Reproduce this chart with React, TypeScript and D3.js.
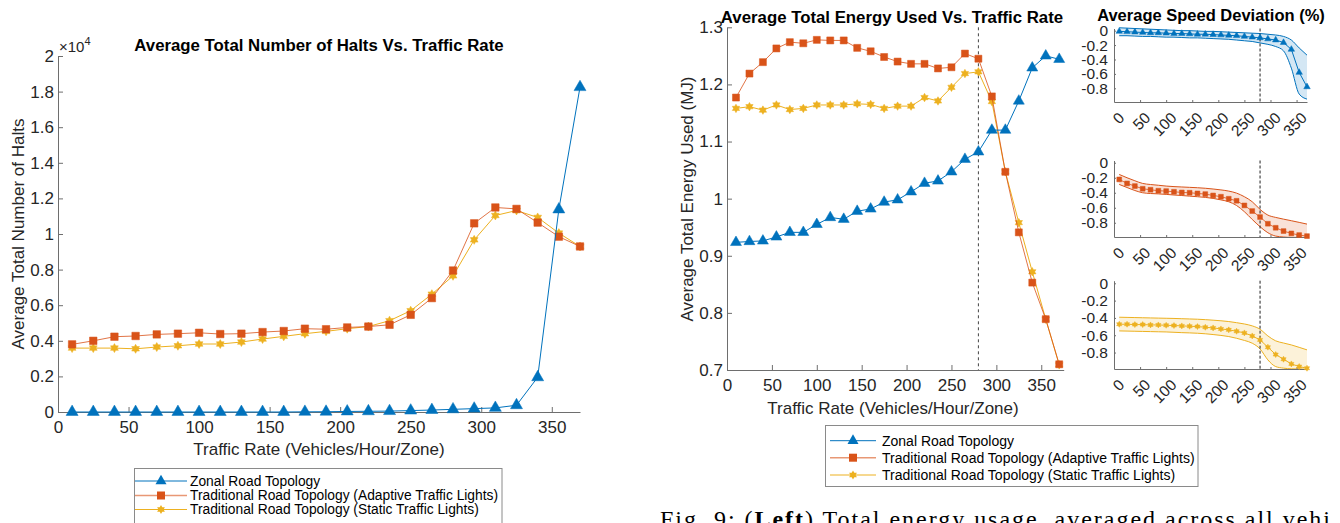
import * as d3 from "d3";
import React from "react";

const width = 1340;
const height = 523;
const font = "'Liberation Sans', Arial, Helvetica, sans-serif";

// traffic rates (vehicles/hour/zone)
const rates = [10, 25, 40, 55, 70, 85, 100, 115, 130, 145, 160, 175, 190, 205, 220, 235, 250, 265, 280, 295, 310, 325, 340, 355, 370];

const seriesNames = [
  "Zonal Road Topology",
  "Traditional Road Topology (Adaptive Traffic Lights)",
  "Traditional Road Topology (Static Traffic Lights)",
];

// total halts
const zonalHalts = [0, 0, 0, 0, 0, 0, 0, 0, 0, 0, 0, 10, 15, 30, 40, 50, 80, 110, 150, 190, 230, 380, 1950, 11380, 18250];
const adaptiveHalts = [3800, 4000, 4230, 4270, 4360, 4400, 4450, 4380, 4400, 4490, 4550, 4680, 4650, 4750, 4800, 4900, 5460, 6400, 7950, 10600, 11490, 11410, 10640, 9850, 9300];
const staticHalts = [3590, 3590, 3590, 3550, 3650, 3720, 3820, 3820, 3930, 4100, 4250, 4400, 4530, 4680, 4800, 5130, 5690, 6620, 7650, 9670, 11040, 11320, 10930, 10050, 9300];

// total energy (MJ)
const zonalEnergy = [0.9235, 0.925, 0.926, 0.933, 0.941, 0.941, 0.955, 0.967, 0.964, 0.978, 0.982, 0.994, 0.998, 1.012, 1.027, 1.031, 1.047, 1.069, 1.082, 1.12, 1.12, 1.171, 1.229, 1.25, 1.244];
const adaptiveEnergy = [1.177, 1.219, 1.239, 1.263, 1.274, 1.272, 1.278, 1.277, 1.277, 1.264, 1.258, 1.248, 1.24, 1.236, 1.236, 1.228, 1.23, 1.254, 1.245, 1.179, 1.047, 0.941, 0.853, 0.789, 0.71];
const staticEnergy = [1.158, 1.161, 1.155, 1.164, 1.156, 1.158, 1.164, 1.164, 1.164, 1.166, 1.165, 1.158, 1.162, 1.162, 1.177, 1.171, 1.195, 1.219, 1.222, 1.17, 1.047, 0.958, 0.872, 0.789, 0.709];

// speed deviation: mean and band
const zonalSpeed = [-0.01, -0.015, -0.02, -0.025, -0.03, -0.03, -0.035, -0.04, -0.04, -0.045, -0.05, -0.05, -0.055, -0.06, -0.065, -0.07, -0.08, -0.09, -0.1, -0.115, -0.13, -0.165, -0.26, -0.58, -0.78];
const zonalUpper = [0.04, 0.035, 0.03, 0.025, 0.02, 0.015, 0.01, 0.005, 0.0, 0.0, -0.005, -0.01, -0.01, -0.015, -0.02, -0.025, -0.03, -0.035, -0.04, -0.05, -0.06, -0.08, -0.13, -0.24, -0.34];
const zonalLower = [-0.07, -0.07, -0.075, -0.08, -0.08, -0.085, -0.09, -0.09, -0.095, -0.1, -0.1, -0.105, -0.11, -0.115, -0.12, -0.13, -0.14, -0.15, -0.17, -0.19, -0.22, -0.28, -0.52, -0.88, -0.95];
const adaptiveSpeed = [-0.222, -0.276, -0.311, -0.347, -0.36, -0.373, -0.378, -0.387, -0.396, -0.4, -0.409, -0.418, -0.436, -0.453, -0.48, -0.507, -0.569, -0.644, -0.724, -0.813, -0.867, -0.911, -0.942, -0.964, -0.978];
const adaptiveUpper = [-0.156, -0.2, -0.24, -0.276, -0.29, -0.3, -0.311, -0.318, -0.323, -0.328, -0.333, -0.34, -0.35, -0.362, -0.378, -0.405, -0.453, -0.52, -0.622, -0.698, -0.729, -0.752, -0.773, -0.795, -0.818];
const adaptiveLower = [-0.289, -0.33, -0.37, -0.4, -0.41, -0.415, -0.422, -0.43, -0.437, -0.445, -0.453, -0.462, -0.475, -0.495, -0.52, -0.57, -0.653, -0.756, -0.853, -0.933, -0.978, -0.99, -0.996, -0.996, -0.996];
const staticSpeed = [-0.473, -0.473, -0.477, -0.477, -0.481, -0.481, -0.485, -0.488, -0.492, -0.496, -0.5, -0.508, -0.515, -0.527, -0.538, -0.554, -0.573, -0.608, -0.654, -0.738, -0.823, -0.877, -0.931, -0.962, -0.981];
const staticUpper = [-0.392, -0.394, -0.396, -0.398, -0.4, -0.402, -0.404, -0.406, -0.409, -0.412, -0.415, -0.42, -0.426, -0.433, -0.442, -0.455, -0.47, -0.492, -0.531, -0.608, -0.665, -0.69, -0.712, -0.74, -0.769];
const staticLower = [-0.55, -0.552, -0.554, -0.556, -0.558, -0.56, -0.562, -0.566, -0.57, -0.573, -0.577, -0.583, -0.592, -0.602, -0.615, -0.635, -0.66, -0.692, -0.758, -0.885, -0.962, -0.98, -0.988, -0.99, -0.992];

const rateTicks = [0, 50, 100, 150, 200, 250, 300, 350];
const haltTicks = [0, 2000, 4000, 6000, 8000, 10000, 12000, 14000, 16000, 18000, 20000];
const energyTicks = [0.7, 0.8, 0.9, 1.0, 1.1, 1.2, 1.3];
const speedTicks = [0, -0.2, -0.4, -0.6, -0.8];
const thresholdRate = 280;

const colors = ["#0072BD", "#D95319", "#EDB120"];
const markers = ["tri", "sq", "star"];
const axisColor = "#6e6e6e";
const textColor = "#262626";

const markerPath = (kind: string, w: number) => {
  if (kind === "tri") return d3.symbol(d3.symbolTriangle, (Math.sqrt(3) / 4) * w * w)() as string;
  if (kind === "sq") return d3.symbol(d3.symbolSquare, w * w)() as string;
  const r = w / 2;
  const pts: [number, number][] = [];
  for (let i = 0; i < 12; i++) {
    const a = -Math.PI / 2 + (i * Math.PI) / 6;
    const rr = i % 2 === 0 ? r : r / Math.sqrt(3);
    pts.push([rr * Math.cos(a), rr * Math.sin(a)]);
  }
  return "M" + pts.map((p) => p.join(",")).join("L") + "Z";
};

const styleAxis = (g: any, fs: number) => {
  g.attr("font-family", font).attr("font-size", fs);
  g.select(".domain").attr("stroke", axisColor);
  g.selectAll(".tick line").attr("stroke", axisColor);
  g.selectAll("text").attr("fill", textColor);
};

const drawSeries = (
  g: any,
  xs: number[],
  ys: number[],
  x: any,
  y: any,
  idx: number,
  size: number,
) => {
  const pts = xs.map((d, i) => [x(d), y(ys[i])] as [number, number]);
  g.append("path")
    .attr("d", d3.line()(pts))
    .attr("fill", "none")
    .attr("stroke", colors[idx])
    .attr("stroke-width", 1)
    .attr("stroke-opacity", idx === 1 ? 0.8 : 1);
  g.append("g")
    .selectAll("path")
    .data(pts)
    .join("path")
    .attr("d", markerPath(markers[idx], size))
    .attr("transform", (p: [number, number]) => `translate(${p[0]},${p[1]})`)
    .attr("fill", colors[idx])
    .attr("stroke", colors[idx])
    .attr("stroke-width", 0.5);
};

const drawLegend = (
  svg: any,
  left: number,
  top: number,
  w: number,
  h: number,
  rows: number[],
  lineX: [number, number],
  textX: number,
  fs: number,
) => {
  const g = svg.append("g");
  g.append("rect")
    .attr("x", left)
    .attr("y", top)
    .attr("width", w)
    .attr("height", h)
    .attr("fill", "#fff")
    .attr("stroke", "#8a8a8a")
    .attr("stroke-width", 1);
  seriesNames.forEach((name, i) => {
    const cy = rows[i];
    g.append("line")
      .attr("x1", lineX[0])
      .attr("x2", lineX[1])
      .attr("y1", cy)
      .attr("y2", cy)
      .attr("stroke", colors[i])
      .attr("stroke-opacity", i === 1 ? 0.6 : 1)
      .attr("stroke-width", i === 1 ? 1.6 : 1);
    g.append("path")
      .attr("d", markerPath(markers[i], i === 0 ? 11 : i === 1 ? 8 : 9))
      .attr("transform", `translate(${(lineX[0] + lineX[1]) / 2},${cy})`)
      .attr("fill", colors[i]);
    g.append("text")
      .attr("x", textX)
      .attr("y", cy)
      .attr("dominant-baseline", "central")
      .attr("font-family", font)
      .attr("font-size", fs)
      .attr("fill", "#000")
      .text(name);
  });
};

const draw = (el: SVGSVGElement) => {
  const svg = d3.select(el);
  svg.selectAll("*").remove();
  svg.append("rect").attr("width", width).attr("height", height).attr("fill", "#fff");

  // ---------- left: halts ----------
  const xL = d3.scaleLinear().domain([0, 370]).range([58, 580]);
  const yL = d3.scaleLinear().domain([0, 20000]).range([412, 56]);

  const gxL = svg
    .append("g")
    .attr("transform", "translate(0,412)")
    .call(d3.axisBottom(xL).tickValues(rateTicks).tickSizeInner(-5).tickSizeOuter(0).tickPadding(9) as any);
  styleAxis(gxL, 17);
  const gyL = svg
    .append("g")
    .attr("transform", "translate(58,0)")
    .call(
      d3
        .axisLeft(yL)
        .tickValues(haltTicks)
        .tickFormat((d: any) => `${+(d / 1e4).toFixed(1)}`)
        .tickSizeInner(-5)
        .tickSizeOuter(0)
        .tickPadding(4) as any,
    );
  styleAxis(gyL, 17);

  const mult = svg.append("text").attr("x", 59).attr("y", 52).attr("font-family", font).attr("fill", textColor);
  mult.append("tspan").attr("font-size", 15).text("×10");
  mult.append("tspan").attr("font-size", 11).attr("dy", -7).text("4");

  const gL = svg.append("g");
  drawSeries(gL, rates, staticHalts, xL, yL, 2, 9);
  drawSeries(gL, rates, adaptiveHalts, xL, yL, 1, 7.5);
  drawSeries(gL, rates, zonalHalts, xL, yL, 0, 12);

  svg
    .append("text")
    .attr("x", 319)
    .attr("y", 51)
    .attr("text-anchor", "middle")
    .attr("font-family", font)
    .attr("font-weight", "bold")
    .attr("font-size", 16.8)
    .text("Average Total Number of Halts Vs. Traffic Rate");
  svg
    .append("text")
    .attr("transform", "translate(24,234) rotate(-90)")
    .attr("text-anchor", "middle")
    .attr("font-family", font)
    .attr("font-size", 17)
    .attr("fill", textColor)
    .text("Average Total Number of Halts");
  svg
    .append("text")
    .attr("x", 319)
    .attr("y", 455)
    .attr("text-anchor", "middle")
    .attr("font-family", font)
    .attr("font-size", 17)
    .attr("fill", textColor)
    .text("Traffic Rate (Vehicles/Hour/Zone)");

  drawLegend(svg, 134.5, 468.5, 367.5, 70, [481, 495.5, 509.5], [135, 187], 190, 13.8);

  // ---------- middle: energy ----------
  const xM = d3.scaleLinear().domain([0, 375]).range([727, 1063.7]);
  const yM = d3.scaleLinear().domain([0.7, 1.3]).range([370, 27.3]);

  const gxM = svg
    .append("g")
    .attr("transform", "translate(0,370)")
    .call(d3.axisBottom(xM).tickValues(rateTicks).tickSizeInner(-5).tickSizeOuter(0).tickPadding(9) as any);
  styleAxis(gxM, 17);
  const gyM = svg
    .append("g")
    .attr("transform", "translate(727,0)")
    .call(
      d3
        .axisLeft(yM)
        .tickValues(energyTicks)
        .tickFormat((d: any) => `${+d.toFixed(1)}`)
        .tickSizeInner(-5)
        .tickSizeOuter(0)
        .tickPadding(4) as any,
    );
  styleAxis(gyM, 17);

  svg
    .append("line")
    .attr("x1", xM(thresholdRate))
    .attr("x2", xM(thresholdRate))
    .attr("y1", yM(1.3))
    .attr("y2", yM(0.7))
    .attr("stroke", "#444")
    .attr("stroke-dasharray", "3,3");

  const gM = svg.append("g");
  drawSeries(gM, rates, staticEnergy, xM, yM, 2, 8.5);
  drawSeries(gM, rates, adaptiveEnergy, xM, yM, 1, 7);
  drawSeries(gM, rates, zonalEnergy, xM, yM, 0, 11);

  svg
    .append("text")
    .attr("x", 892)
    .attr("y", 23)
    .attr("text-anchor", "middle")
    .attr("font-family", font)
    .attr("font-weight", "bold")
    .attr("font-size", 16.8)
    .text("Average Total Energy Used Vs. Traffic Rate");
  svg
    .append("text")
    .attr("transform", "translate(693,199) rotate(-90)")
    .attr("text-anchor", "middle")
    .attr("font-family", font)
    .attr("font-size", 17)
    .attr("fill", textColor)
    .text("Average Total Energy Used (MJ)");
  svg
    .append("text")
    .attr("x", 893)
    .attr("y", 414)
    .attr("text-anchor", "middle")
    .attr("font-family", font)
    .attr("font-size", 17)
    .attr("fill", textColor)
    .text("Traffic Rate (Vehicles/Hour/Zone)");

  drawLegend(svg, 825.5, 425.5, 372.5, 61, [440.7, 457.7, 475], [830, 876], 882, 14);

  // ---------- right: speed deviation panels ----------
  const xR = d3.scaleLinear().domain([0, 370]).range([1114, 1307]);
  const panels = [
    { mean: zonalSpeed, upper: zonalUpper, lower: zonalLower, range: [102, 28.5], size: 6.5 },
    { mean: adaptiveSpeed, upper: adaptiveUpper, lower: adaptiveLower, range: [237, 160.5], size: 4.8 },
    { mean: staticSpeed, upper: staticUpper, lower: staticLower, range: [369, 280.7], size: 6 },
  ];
  panels.forEach((p, i) => {
    const y = d3.scaleLinear().domain([-0.99, 0.03]).range(p.range);
    const g = svg.append("g");
    const area = d3
      .area<number>()
      .x((_, j) => xR(rates[j]))
      .y0((_, j) => y(p.lower[j]))
      .y1((d) => y(d))
      .curve(d3.curveMonotoneX);
    g.append("path").attr("d", area(p.upper)).attr("fill", colors[i]).attr("fill-opacity", 0.17);
    [p.upper, p.lower].forEach((edge) => {
      g.append("path")
        .attr(
          "d",
          d3
            .line<number>()
            .x((_, j) => xR(rates[j]))
            .y((d) => y(d))
            .curve(d3.curveMonotoneX)(edge),
        )
        .attr("fill", "none")
        .attr("stroke", colors[i])
        .attr("stroke-width", 1);
    });

    const gx = svg
      .append("g")
      .attr("transform", `translate(0,${p.range[0]})`)
      .call(d3.axisBottom(xR).tickValues(rateTicks).tickSizeInner(-2).tickSizeOuter(0) as any);
    styleAxis(gx, 15.5);
    gx.selectAll(".tick text")
      .attr("y", null)
      .attr("dy", null)
      .attr("text-anchor", "end")
      .attr("dominant-baseline", "central")
      .attr("transform", "translate(7,13) rotate(-45)");
    const gy = svg
      .append("g")
      .attr("transform", "translate(1114,0)")
      .call(
        d3
          .axisLeft(y)
          .tickValues(speedTicks)
          .tickFormat((d: any) => `${+d.toFixed(1)}`)
          .tickSizeInner(-2)
          .tickSizeOuter(0)
          .tickPadding(6) as any,
      );
    styleAxis(gy, 15.5);

    svg
      .append("line")
      .attr("x1", xR(thresholdRate))
      .attr("x2", xR(thresholdRate))
      .attr("y1", p.range[1])
      .attr("y2", p.range[0])
      .attr("stroke", "#222")
      .attr("stroke-dasharray", "3,2");

    drawSeries(svg.append("g"), rates, p.mean, xR, y, i, p.size);
  });

  svg
    .append("text")
    .attr("x", 1211)
    .attr("y", 20.5)
    .attr("text-anchor", "middle")
    .attr("font-family", font)
    .attr("font-weight", "bold")
    .attr("font-size", 16.5)
    .text("Average Speed Deviation (%)");

  // ---------- caption (cut off at the bottom, as in the page) ----------
  const cap = svg
    .append("text")
    .attr("x", 660)
    .attr("y", 527)
    .attr("font-family", "'Liberation Serif', 'Times New Roman', serif")
    .attr("font-size", 24)
    .attr("fill", "#000")
    .attr("textLength", 670)
    .attr("lengthAdjust", "spacing");
  cap.append("tspan").text("Fig. 9: (");
  cap.append("tspan").attr("font-weight", "bold").text("Left");
  cap.append("tspan").text(") Total energy usage, averaged across all vehi");
};

export default function App() {
  const ref = React.useRef<SVGSVGElement | null>(null);
  React.useEffect(() => {
    if (ref.current) draw(ref.current);
  }, []);
  return (
    <svg
      ref={ref}
      width={width}
      height={height}
      style={{ position: "absolute", left: 0, top: 0, display: "block" }}
    />
  );
}
